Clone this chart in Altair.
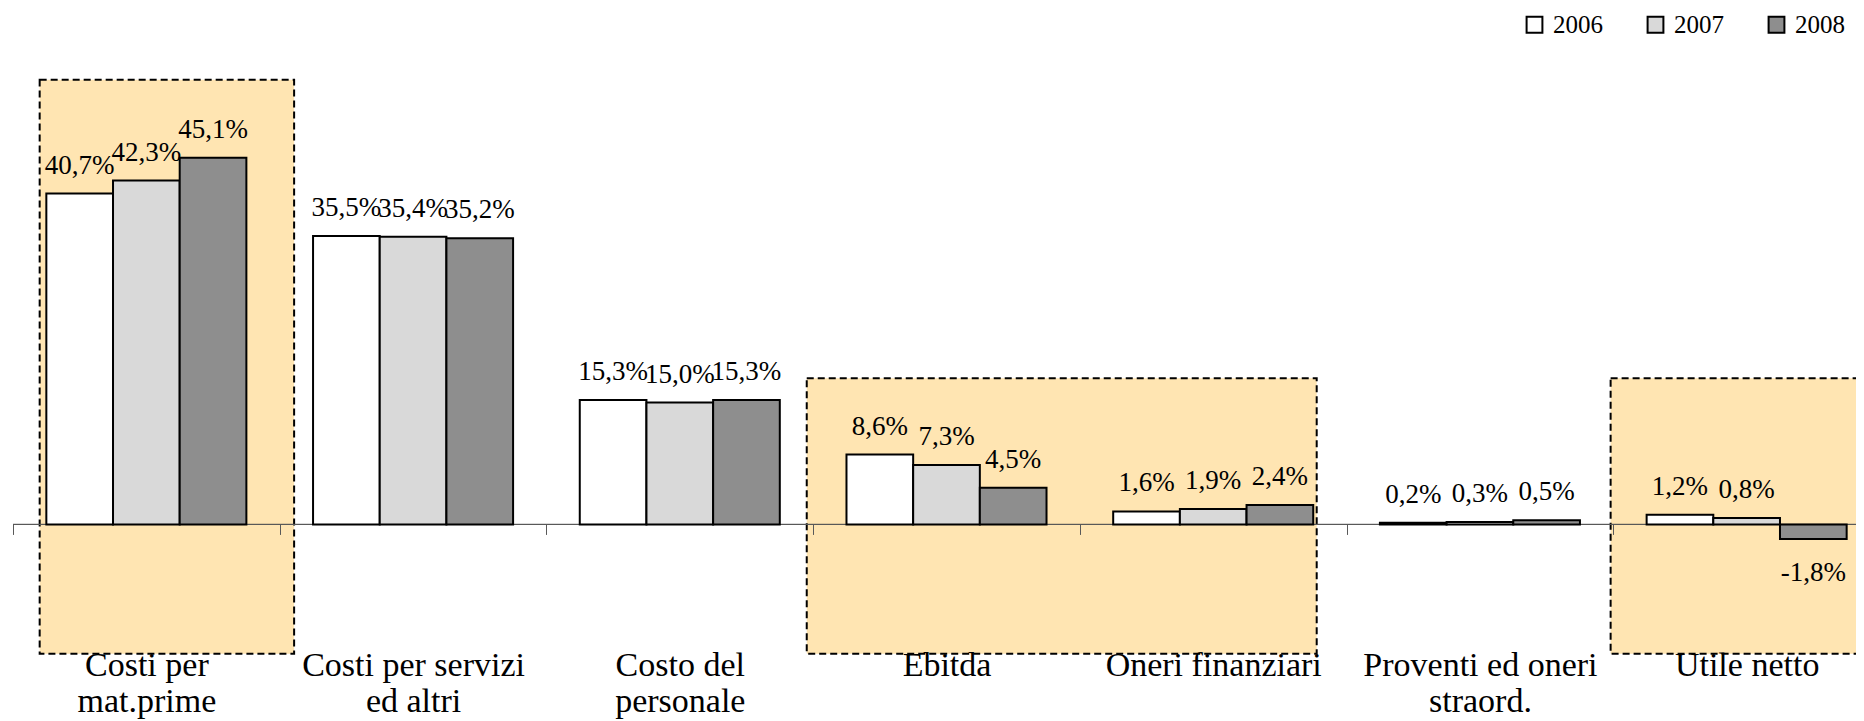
import altair as alt
import pandas as pd

# ---- data ----
CATEGORIES = [
    "Costi per\nmat.prime",
    "Costi per servizi\ned altri",
    "Costo del\npersonale",
    "Ebitda",
    "Oneri finanziari",
    "Proventi ed oneri\nstraord.",
    "Utile netto",
]
YEARS = ["2006", "2007", "2008"]
V2006 = [40.7, 35.5, 15.3, 8.6, 1.6, 0.2, 1.2]
V2007 = [42.3, 35.4, 15.0, 7.3, 1.9, 0.3, 0.8]
V2008 = [45.1, 35.2, 15.3, 4.5, 2.4, 0.5, -1.8]
YEAR_COLORS = ["#ffffff", "#d9d9d9", "#8e8e8e"]

# highlighted boxes, in category units (x) and percent (y)
BOX_START = [0.10, 2.976, 5.99]
BOX_END = [1.054, 4.888, 7.2]
BOX_TOP = [54.7, 18.0, 18.0]
BOX_BOTTOM = [-15.9, -15.9, -15.9]

rows = []
for year, vals in zip(YEARS, [V2006, V2007, V2008]):
    for cat, v in zip(CATEGORIES, vals):
        rows.append({"category": cat, "year": year, "value": v,
                     "label": f"{v:.1f}".replace(".", ",") + "%"})
df = pd.DataFrame(rows)
boxes = pd.DataFrame({"x0": BOX_START, "x1": BOX_END, "y0": BOX_BOTTOM, "y1": BOX_TOP})

# ---- layout ----
W = 1843
H = 634
Y_MIN, Y_MAX = -20, 58
RANGE_W = 1867  # 7 steps of ~266.7 px, the last one runs past the page edge
SERIF = "Liberation Serif"
zero_offset = -(0 - Y_MIN) * H / (Y_MAX - Y_MIN)

yscale = alt.Scale(domain=[Y_MIN, Y_MAX], nice=False, zero=False)


def xcat(axis=None):
    return alt.X("category:N",
                 scale=alt.Scale(type="band", domain=CATEGORIES, range=[0, RANGE_W],
                                 paddingInner=0, paddingOuter=0),
                 sort=None, title=None, axis=axis)


def xoff():
    return alt.XOffset("year:N", scale=alt.Scale(type="band", domain=YEARS,
                                                 paddingInner=0, paddingOuter=0.5))


box_layer = alt.Chart(boxes).mark_rect(
    fill="#FFE5B2", stroke="black", strokeWidth=2, strokeDash=[7, 4]
).encode(
    x=alt.X("x0:Q", scale=alt.Scale(domain=[0, 7], range=[0, RANGE_W], nice=False, zero=False), axis=None),
    x2="x1:Q",
    y=alt.Y("y0:Q", scale=yscale, axis=None),
    y2="y1:Q",
)

zero_rule = alt.Chart(boxes).mark_rule(color="#595959", strokeWidth=1).encode(
    y=alt.Y("z:Q", scale=yscale, axis=None)
).transform_calculate(z="0")

bars = alt.Chart(df).mark_bar(stroke="black", strokeWidth=2).encode(
    x=xcat(alt.Axis(orient="bottom", offset=zero_offset, domain=False,
                    ticks=True, tickBand="extent", tickSize=10,
                    tickColor="#595959", tickWidth=1,
                    labelExpr="split(datum.label, '\\n')",
                    labelFont=SERIF, labelFontSize=34, labelColor="black",
                    labelLineHeight=36, labelPadding=114, labelAngle=0,
                    labelLimit=0, labelOverlap=False, zindex=1)),
    xOffset=xoff(),
    y=alt.Y("value:Q", scale=yscale, axis=None),
    fill=alt.Fill("year:N", scale=alt.Scale(domain=YEARS, range=YEAR_COLORS),
                  legend=alt.Legend(orient="none", legendX=1509, legendY=-41,
                                    direction="horizontal", title=None,
                                    symbolType="square", symbolSize=250,
                                    symbolStrokeColor="black", symbolStrokeWidth=2,
                                    labelFont=SERIF, labelFontSize=25,
                                    labelColor="black", labelOffset=6,
                                    columnPadding=40, padding=0)),
)

text_pos = alt.Chart(df).transform_filter("datum.value >= 0").mark_text(
    font=SERIF, fontSize=27, color="black", baseline="alphabetic", dy=-20, align="center"
).encode(
    x=xcat(),
    xOffset=xoff(),
    y=alt.Y("value:Q", scale=yscale, axis=None),
    text="label:N",
)

text_neg = alt.Chart(df).transform_filter("datum.value < 0").mark_text(
    font=SERIF, fontSize=27, color="black", baseline="alphabetic", dy=42, align="center"
).encode(
    x=xcat(),
    xOffset=xoff(),
    y=alt.Y("value:Q", scale=yscale, axis=None),
    text="label:N",
)

chart = alt.layer(box_layer, zero_rule, bars, text_pos, text_neg).resolve_scale(
    x="independent", xOffset="independent"
).properties(
    width=W,
    height=H,
    autosize=alt.AutoSizeParams(type="none"),
    padding={"left": 5, "top": 45, "right": 0, "bottom": 34},
    background="white",
).configure_view(stroke=None)

chart.save("out.html", embed_options={"renderer": "svg", "actions": False})
